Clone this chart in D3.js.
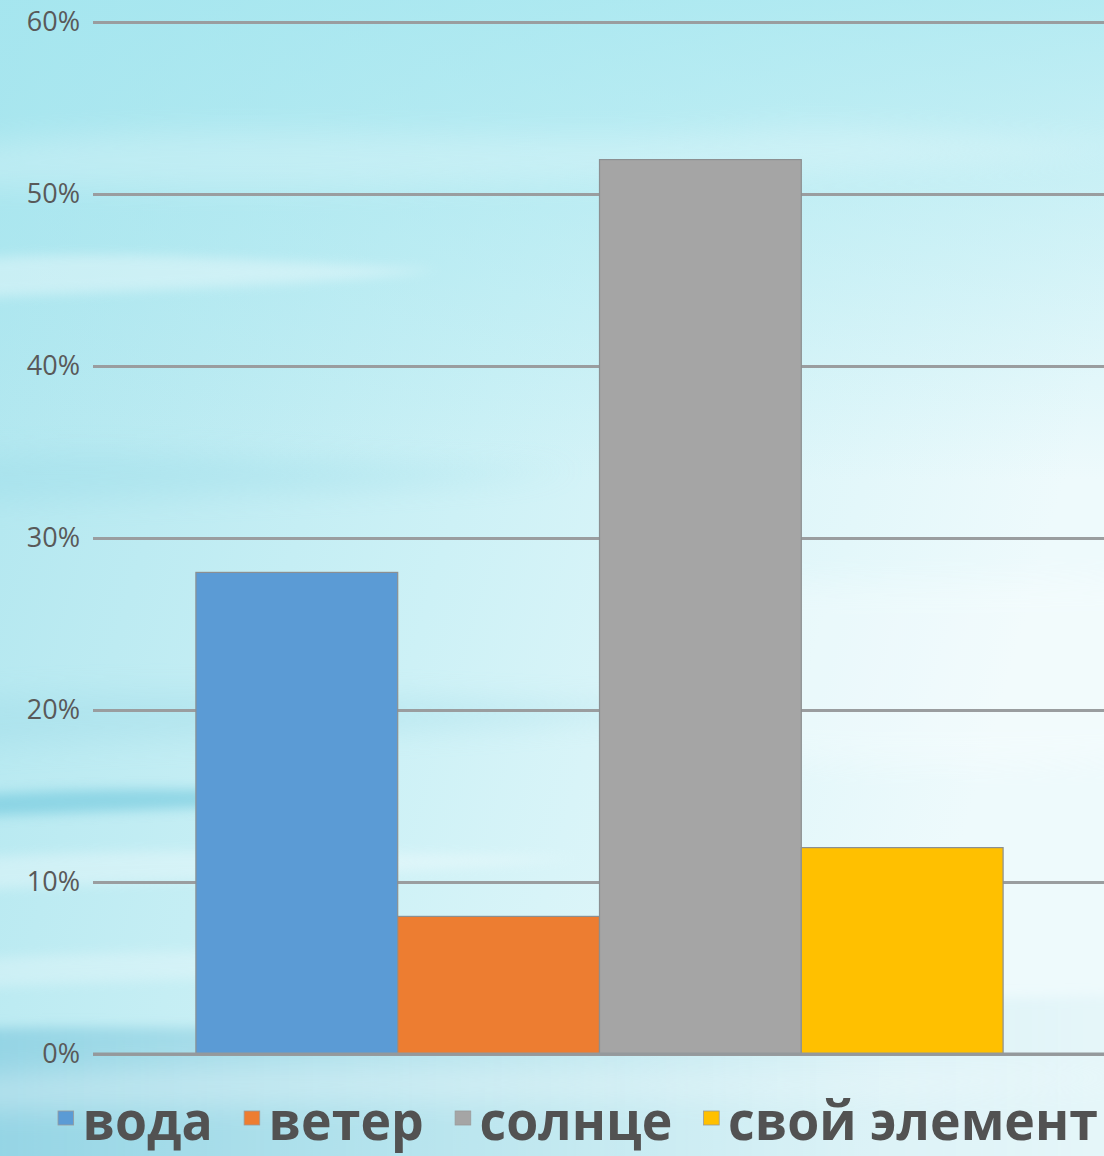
<!DOCTYPE html>
<html>
<head>
<meta charset="utf-8">
<script src="https://cdn.jsdelivr.net/npm/d3@7"></script>
<style>
  html, body { margin: 0; padding: 0; background: #d4f2f6; }
  #chart { width: 1104px; height: 1156px; }
</style>
</head>
<body>
<div id="chart"></div>
<script>
//Datos del gráfico
const series = ['вода', 'ветер', 'солнце', 'свой элемент'];
const values = [28, 8, 52, 12];
const colors = ['#5B9BD5', '#ED7D31', '#A5A5A5', '#FFC000'];
const yTicks = [0, 10, 20, 30, 40, 50, 60];

const W = 1104, H = 1156;
const margin = {top: 22, right: 0, bottom: 102, left: 93};

const svg = d3.select('#chart').append('svg')
    .attr('width', W)
    .attr('height', H)
    .attr('viewBox', '0 0 ' + W + ' ' + H);

//Fondo tipo acuarela
const defs = svg.append('defs');

const base = defs.append('linearGradient').attr('id', 'bgBase')
    .attr('x1', '0').attr('y1', '0').attr('x2', '1').attr('y2', '0.3');
base.append('stop').attr('offset', '0').attr('stop-color', '#ade5ee');
base.append('stop').attr('offset', '0.5').attr('stop-color', '#cdf1f6');
base.append('stop').attr('offset', '1').attr('stop-color', '#eefafc');

const topG = defs.append('linearGradient').attr('id', 'bgTop')
    .attr('x1', '0').attr('y1', '0').attr('x2', '0').attr('y2', '1');
topG.append('stop').attr('offset', '0').attr('stop-color', '#a3e6ef').attr('stop-opacity', 0.75);
topG.append('stop').attr('offset', '1').attr('stop-color', '#a3e6ef').attr('stop-opacity', 0);

const botG = defs.append('linearGradient').attr('id', 'bgBot')
    .attr('x1', '0').attr('y1', '0').attr('x2', '1').attr('y2', '0');
botG.append('stop').attr('offset', '0').attr('stop-color', '#86cde0').attr('stop-opacity', 0.8);
botG.append('stop').attr('offset', '0.6').attr('stop-color', '#b0dfea').attr('stop-opacity', 0.45);
botG.append('stop').attr('offset', '1').attr('stop-color', '#d6eff5').attr('stop-opacity', 0.3);

defs.append('filter').attr('id', 'blur').attr('x', '-30%').attr('y', '-100%').attr('width', '160%').attr('height', '300%')
    .append('feGaussianBlur').attr('stdDeviation', 14);
defs.append('filter').attr('id', 'blurSoft').attr('x', '-30%').attr('y', '-100%').attr('width', '160%').attr('height', '300%')
    .append('feGaussianBlur').attr('stdDeviation', 6);

const bg = svg.append('g').attr('class', 'background');
bg.append('rect').attr('width', W).attr('height', H).attr('fill', 'url(#bgBase)');
bg.append('rect').attr('width', W).attr('height', 480).attr('fill', 'url(#bgTop)');

//Franjas de agua (formas afiladas en los extremos)
const streaks = [
  {d: 'M-60,150 C200,110 500,150 760,130 C900,120 1040,150 1160,140 C1000,175 700,175 420,185 C200,195 60,180 -60,190 Z', c: '#ffffff', o: 0.22, f: 'blur'},
  {d: 'M-60,262 C100,245 260,262 440,270 C260,290 100,290 -60,300 Z', c: '#ffffff', o: 0.35, f: 'blurSoft'},
  {d: 'M-60,460 C150,440 350,470 580,470 C350,495 150,495 -60,505 Z', c: '#92d9e7', o: 0.3, f: 'blur'},
  {d: 'M-60,700 C180,680 420,700 700,708 C420,740 180,735 -60,750 Z', c: '#8fd3e3', o: 0.25, f: 'blur'},
  {d: 'M-60,798 C100,784 240,790 380,794 C240,810 100,810 -60,818 Z', c: '#5fc0d8', o: 0.5, f: 'blurSoft'},
  {d: 'M-60,860 C150,845 350,852 580,858 C340,880 140,880 -60,892 Z', c: '#ffffff', o: 0.3, f: 'blurSoft'},
  {d: 'M-60,962 C150,945 350,952 540,955 C320,980 140,978 -60,990 Z', c: '#ffffff', o: 0.25, f: 'blurSoft'},
  {d: 'M-60,1030 C150,1020 300,1040 520,1012 C700,995 900,1002 1160,994 L1160,1170 L-60,1170 Z', c: 'url(#bgBot)', o: 1, f: 'blurSoft'},
  {d: 'M-60,1080 C200,1060 400,1066 700,1074 C850,1078 1000,1070 1160,1076 C900,1100 500,1098 200,1106 C100,1110 20,1106 -60,1112 Z', c: '#ffffff', o: 0.3, f: 'blur'},
  {d: 'M620,600 C760,570 950,585 1160,575 L1160,760 C950,770 760,770 620,740 Z', c: '#ffffff', o: 0.25, f: 'blur'}
];
bg.selectAll('path.streak')
    .data(streaks)
    .enter()
    .append('path')
    .attr('class', 'streak')
    .attr('d', d => d.d)
    .attr('fill', d => d.c)
    .attr('opacity', d => d.o)
    .attr('filter', d => 'url(#' + d.f + ')');

//Escalas
const width = W - margin.left - margin.right,
      height = H - margin.top - margin.bottom;

const g = svg.append('g')
    .attr('transform', 'translate(' + margin.left + ',' + margin.top + ')');

const y = d3.scaleLinear()
    .domain([0, 60])
    .range([height, 0]);

const x = d3.scaleBand()
    .domain(series)
    .range([2, width])
    .paddingInner(0)
    .paddingOuter(0.5);

//Eje Y con líneas de rejilla
const yAxis = g.append('g')
    .call(d3.axisLeft(y).tickValues(yTicks).tickSize(-width).tickFormat(d => d + '%'));
yAxis.select('.domain').remove();
yAxis.selectAll('.tick line')
    .attr('stroke', '#9a9d9f')
    .attr('stroke-width', 3);
yAxis.selectAll('.tick text')
    .attr('x', -13)
    .attr('fill', '#595959')
    .style('font-family', '"Open Sans", sans-serif')
    .style('font-size', '27px');

//Barras
g.append('g')
    .selectAll('rect')
    .data(series)
    .enter()
    .append('rect')
    .attr('x', d => x(d))
    .attr('y', (d, i) => y(values[i]))
    .attr('width', x.bandwidth())
    .attr('height', (d, i) => y(0) - y(values[i]))
    .attr('fill', (d, i) => colors[i])
    .attr('stroke', '#8c8f91')
    .attr('stroke-width', 1.2);

//Línea base 0%
g.append('line')
    .attr('x1', 0).attr('x2', width)
    .attr('y1', y(0)).attr('y2', y(0))
    .attr('stroke', '#94999c')
    .attr('stroke-width', 3);

//Leyenda (se ajusta horizontalmente para ocupar de 58 a 1098)
const legendLeft = 58, legendRight = 1098;
const legendOuter = svg.append('g').attr('class', 'legend');
const legend = legendOuter.append('g');

let cx = 0;
series.forEach(function(s, i) {
    const item = legend.append('g');
    item.append('rect')
        .attr('x', cx)
        .attr('y', 1111)
        .attr('width', 16)
        .attr('height', 14)
        .attr('fill', colors[i])
        .attr('stroke', '#9a9a9a')
        .attr('stroke-width', 0.8);
    const t = item.append('text')
        .attr('x', cx + 25)
        .attr('y', 1140)
        .attr('fill', '#525252')
        .style('font-family', '"Open Sans", sans-serif')
        .style('font-weight', 700)
        .style('font-size', '53px')
        .text(s);
    cx += 25 + t.node().getComputedTextLength();
    if (i < series.length - 1) cx += 32;
});
const k = (legendRight - legendLeft) / cx;
legend.attr('transform', 'translate(' + legendLeft + ',0) scale(' + k + ',1)');
</script>
</body>
</html>
